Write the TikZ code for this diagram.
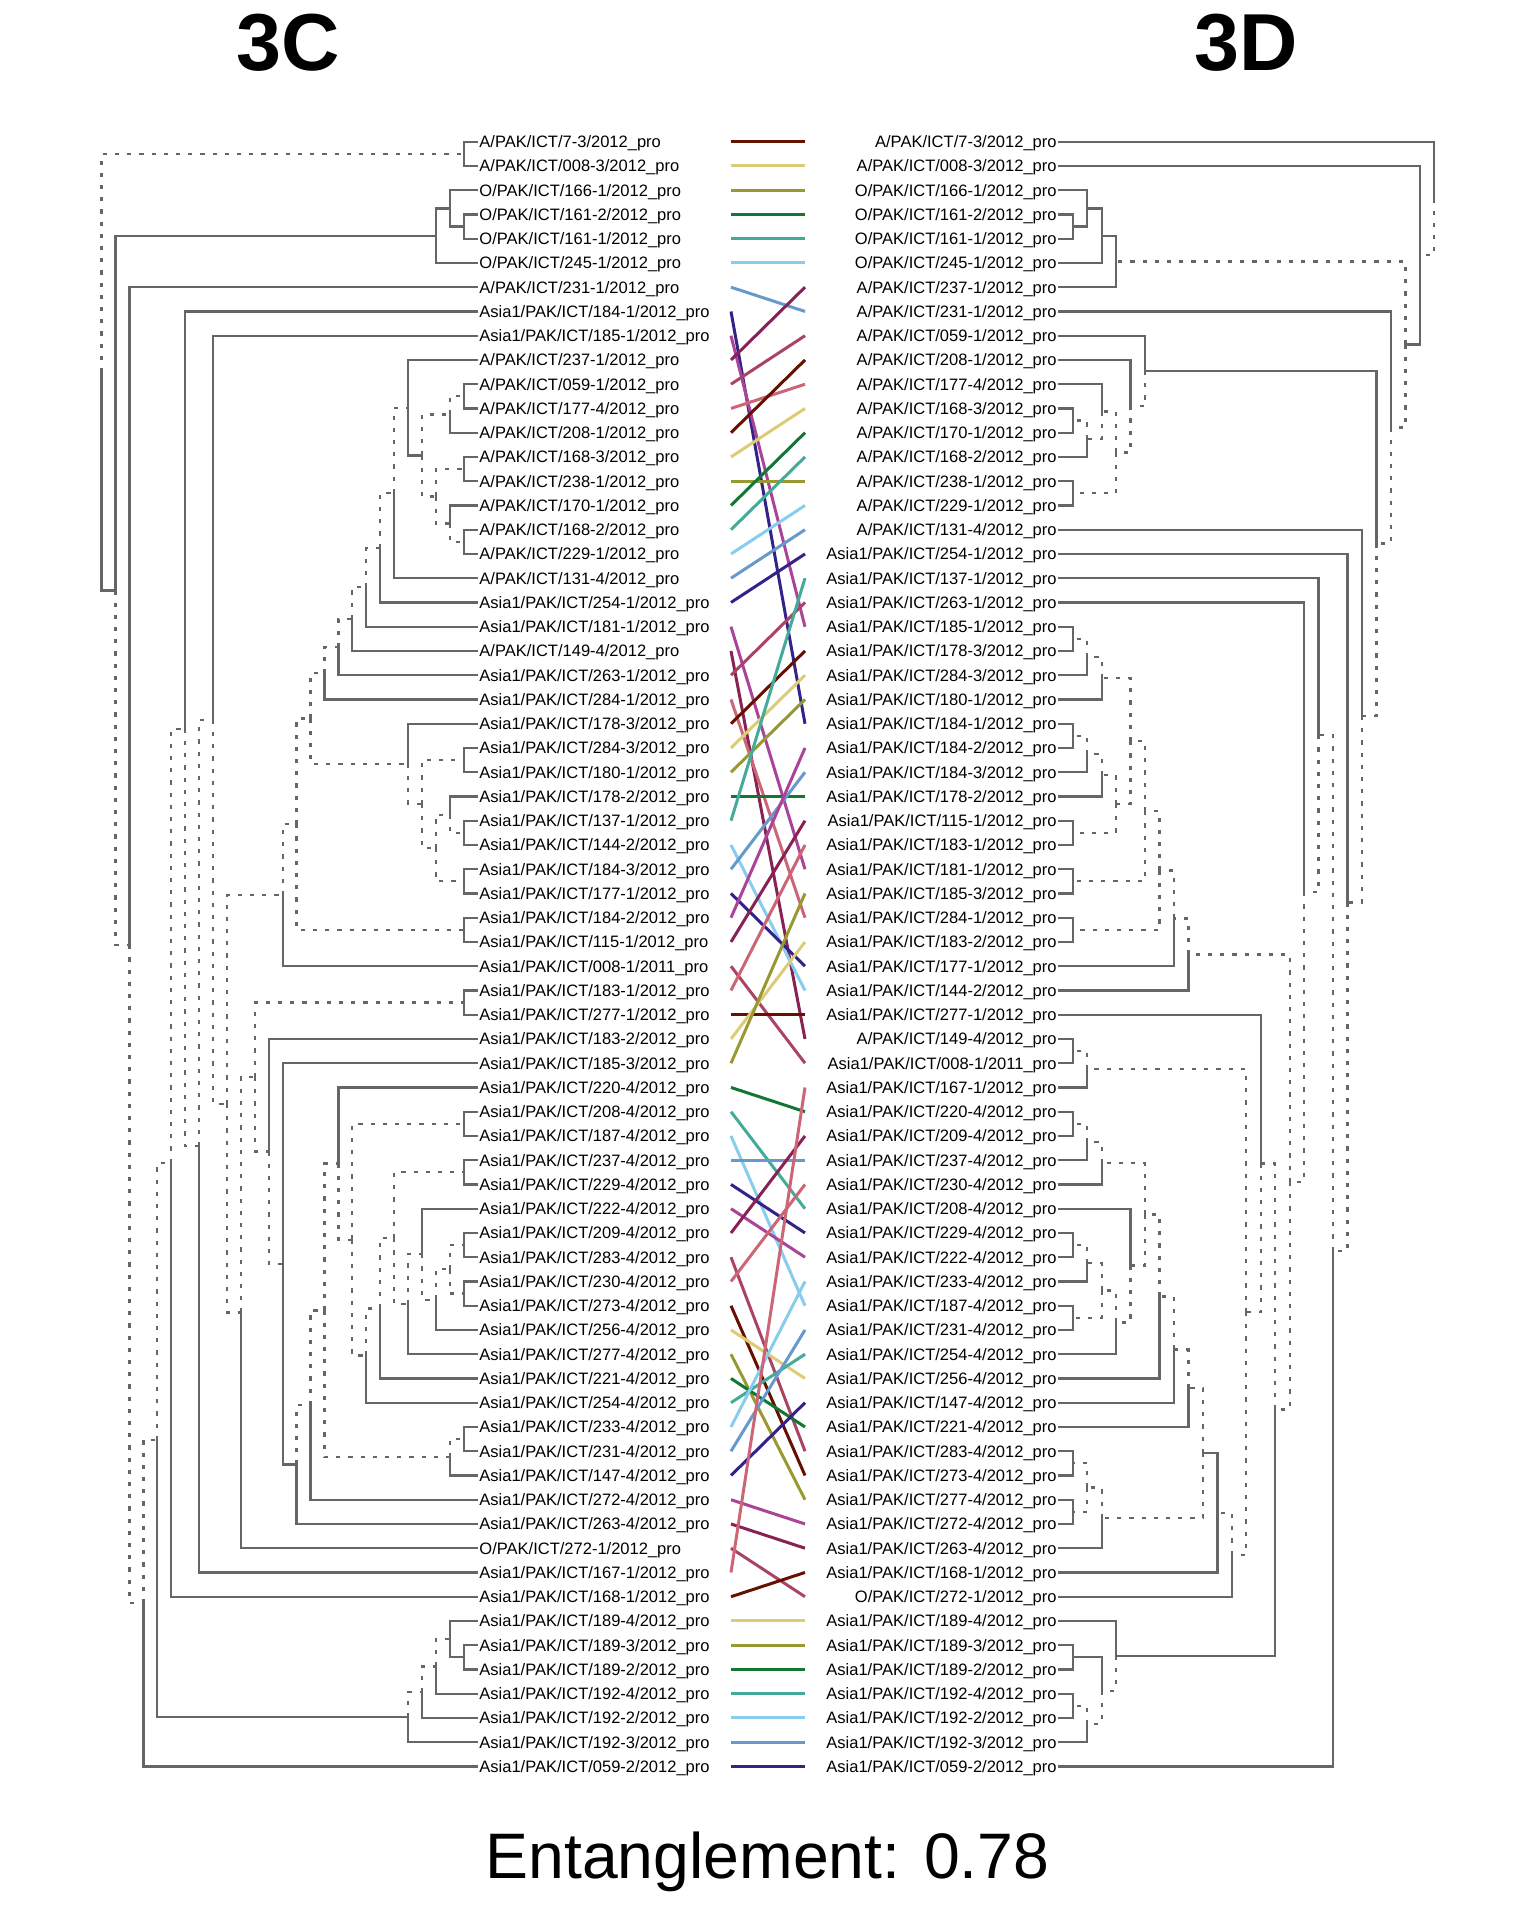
\documentclass[tikz,border=0pt]{standalone}
\usepackage{fontspec}
\setmainfont{Liberation Sans}
\usetikzlibrary{calc}
\definecolor{treec}{HTML}{666666}
\definecolor{tc0}{HTML}{661100}
\definecolor{tc1}{HTML}{DDCC77}
\definecolor{tc2}{HTML}{999933}
\definecolor{tc3}{HTML}{117733}
\definecolor{tc4}{HTML}{44AA99}
\definecolor{tc5}{HTML}{88CCEE}
\definecolor{tc6}{HTML}{6699CC}
\definecolor{tc7}{HTML}{332288}
\definecolor{tc8}{HTML}{AA4499}
\definecolor{tc9}{HTML}{882255}
\definecolor{tc10}{HTML}{AA4466}
\definecolor{tc11}{HTML}{CC6677}

% join two subtrees at a height level: name, level, child, style, child, style
\newcommand\lj[6]{%
  \path let \p1=($(#3)!.5!(#5)$) in ({(477.7-13.93*#2)*0.1mm},\y1) coordinate (#1);
  \draw[br,#4] (#1) |- (#3);
  \draw[br,#6] (#1) |- (#5);}
\newcommand\rj[6]{%
  \path let \p1=($(#3)!.5!(#5)$) in ({(1058.3+14.46*#2)*0.1mm},\y1) coordinate (#1);
  \draw[br,#4] (#1) |- (#3);
  \draw[br,#6] (#1) |- (#5);}

\begin{document}
\begin{tikzpicture}[x=0.1mm, y=-0.1mm,
    br/.style={draw=treec, line width=0.23mm},
    sol/.style={},
    dsh/.style={dash pattern=on 0.42mm off 0.8mm},
    leaf/.style={font=\fontsize{4.7}{5}\selectfont, inner sep=0pt},
    tangle/.style={line width=0.3mm}]
  \useasboundingbox (0,0) rectangle (1536,1920);

  \node[font=\bfseries\fontsize{23}{26}\selectfont, anchor=base] (tC) at (288,70) {3C};
  \node[font=\bfseries\fontsize{23}{26}\selectfont, anchor=base] (tD) at (1246,70) {3D};
  \node[font=\fontsize{18.3}{22}\selectfont, anchor=base] (ent) at (767.5,1878) {Entanglement: 0.78};

  \foreach \i in {1,...,68}{
    \coordinate (l\i) at (477.7,{141.7+24.25*(\i-1)});
    \coordinate (r\i) at (1058.3,{141.7+24.25*(\i-1)});
    \coordinate (a\i) at (731,{141.7+24.25*(\i-1)});
    \coordinate (b\i) at (805,{141.7+24.25*(\i-1)});
  }

  % labels
  \foreach \lab [count=\i] in {A/PAK/ICT/7-3/2012, A/PAK/ICT/008-3/2012, O/PAK/ICT/166-1/2012, O/PAK/ICT/161-2/2012, O/PAK/ICT/161-1/2012, O/PAK/ICT/245-1/2012, A/PAK/ICT/231-1/2012, Asia1/PAK/ICT/184-1/2012, Asia1/PAK/ICT/185-1/2012, A/PAK/ICT/237-1/2012, A/PAK/ICT/059-1/2012, A/PAK/ICT/177-4/2012, A/PAK/ICT/208-1/2012, A/PAK/ICT/168-3/2012, A/PAK/ICT/238-1/2012, A/PAK/ICT/170-1/2012, A/PAK/ICT/168-2/2012, A/PAK/ICT/229-1/2012, A/PAK/ICT/131-4/2012, Asia1/PAK/ICT/254-1/2012, Asia1/PAK/ICT/181-1/2012, A/PAK/ICT/149-4/2012, Asia1/PAK/ICT/263-1/2012, Asia1/PAK/ICT/284-1/2012, Asia1/PAK/ICT/178-3/2012, Asia1/PAK/ICT/284-3/2012, Asia1/PAK/ICT/180-1/2012, Asia1/PAK/ICT/178-2/2012, Asia1/PAK/ICT/137-1/2012, Asia1/PAK/ICT/144-2/2012, Asia1/PAK/ICT/184-3/2012, Asia1/PAK/ICT/177-1/2012, Asia1/PAK/ICT/184-2/2012, Asia1/PAK/ICT/115-1/2012, Asia1/PAK/ICT/008-1/2011, Asia1/PAK/ICT/183-1/2012, Asia1/PAK/ICT/277-1/2012, Asia1/PAK/ICT/183-2/2012, Asia1/PAK/ICT/185-3/2012, Asia1/PAK/ICT/220-4/2012, Asia1/PAK/ICT/208-4/2012, Asia1/PAK/ICT/187-4/2012, Asia1/PAK/ICT/237-4/2012, Asia1/PAK/ICT/229-4/2012, Asia1/PAK/ICT/222-4/2012, Asia1/PAK/ICT/209-4/2012, Asia1/PAK/ICT/283-4/2012, Asia1/PAK/ICT/230-4/2012, Asia1/PAK/ICT/273-4/2012, Asia1/PAK/ICT/256-4/2012, Asia1/PAK/ICT/277-4/2012, Asia1/PAK/ICT/221-4/2012, Asia1/PAK/ICT/254-4/2012, Asia1/PAK/ICT/233-4/2012, Asia1/PAK/ICT/231-4/2012, Asia1/PAK/ICT/147-4/2012, Asia1/PAK/ICT/272-4/2012, Asia1/PAK/ICT/263-4/2012, O/PAK/ICT/272-1/2012, Asia1/PAK/ICT/167-1/2012, Asia1/PAK/ICT/168-1/2012, Asia1/PAK/ICT/189-4/2012, Asia1/PAK/ICT/189-3/2012, Asia1/PAK/ICT/189-2/2012, Asia1/PAK/ICT/192-4/2012, Asia1/PAK/ICT/192-2/2012, Asia1/PAK/ICT/192-3/2012, Asia1/PAK/ICT/059-2/2012}
    \node[leaf, anchor=base west] (ll\i) at ($(l\i)+(1,6)$) {\lab\_pro};
  \foreach \lab [count=\i] in {A/PAK/ICT/7-3/2012, A/PAK/ICT/008-3/2012, O/PAK/ICT/166-1/2012, O/PAK/ICT/161-2/2012, O/PAK/ICT/161-1/2012, O/PAK/ICT/245-1/2012, A/PAK/ICT/237-1/2012, A/PAK/ICT/231-1/2012, A/PAK/ICT/059-1/2012, A/PAK/ICT/208-1/2012, A/PAK/ICT/177-4/2012, A/PAK/ICT/168-3/2012, A/PAK/ICT/170-1/2012, A/PAK/ICT/168-2/2012, A/PAK/ICT/238-1/2012, A/PAK/ICT/229-1/2012, A/PAK/ICT/131-4/2012, Asia1/PAK/ICT/254-1/2012, Asia1/PAK/ICT/137-1/2012, Asia1/PAK/ICT/263-1/2012, Asia1/PAK/ICT/185-1/2012, Asia1/PAK/ICT/178-3/2012, Asia1/PAK/ICT/284-3/2012, Asia1/PAK/ICT/180-1/2012, Asia1/PAK/ICT/184-1/2012, Asia1/PAK/ICT/184-2/2012, Asia1/PAK/ICT/184-3/2012, Asia1/PAK/ICT/178-2/2012, Asia1/PAK/ICT/115-1/2012, Asia1/PAK/ICT/183-1/2012, Asia1/PAK/ICT/181-1/2012, Asia1/PAK/ICT/185-3/2012, Asia1/PAK/ICT/284-1/2012, Asia1/PAK/ICT/183-2/2012, Asia1/PAK/ICT/177-1/2012, Asia1/PAK/ICT/144-2/2012, Asia1/PAK/ICT/277-1/2012, A/PAK/ICT/149-4/2012, Asia1/PAK/ICT/008-1/2011, Asia1/PAK/ICT/167-1/2012, Asia1/PAK/ICT/220-4/2012, Asia1/PAK/ICT/209-4/2012, Asia1/PAK/ICT/237-4/2012, Asia1/PAK/ICT/230-4/2012, Asia1/PAK/ICT/208-4/2012, Asia1/PAK/ICT/229-4/2012, Asia1/PAK/ICT/222-4/2012, Asia1/PAK/ICT/233-4/2012, Asia1/PAK/ICT/187-4/2012, Asia1/PAK/ICT/231-4/2012, Asia1/PAK/ICT/254-4/2012, Asia1/PAK/ICT/256-4/2012, Asia1/PAK/ICT/147-4/2012, Asia1/PAK/ICT/221-4/2012, Asia1/PAK/ICT/283-4/2012, Asia1/PAK/ICT/273-4/2012, Asia1/PAK/ICT/277-4/2012, Asia1/PAK/ICT/272-4/2012, Asia1/PAK/ICT/263-4/2012, Asia1/PAK/ICT/168-1/2012, O/PAK/ICT/272-1/2012, Asia1/PAK/ICT/189-4/2012, Asia1/PAK/ICT/189-3/2012, Asia1/PAK/ICT/189-2/2012, Asia1/PAK/ICT/192-4/2012, Asia1/PAK/ICT/192-2/2012, Asia1/PAK/ICT/192-3/2012, Asia1/PAK/ICT/059-2/2012}
    \node[leaf, anchor=base east] (rl\i) at ($(r\i)+(-1,6)$) {\lab\_pro};

  % left tree (3C)
  \lj{LA}{1}{l1}{sol}{l2}{sol}
  \lj{LO1}{1}{l4}{sol}{l5}{sol}
  \lj{LO2}{2}{l3}{sol}{LO1}{sol}
  \lj{LO3}{3}{LO2}{sol}{l6}{sol}
  \lj{LG1}{1}{l63}{sol}{l64}{sol}
  \lj{LG2}{2}{l62}{sol}{LG1}{sol}
  \lj{LG3}{3}{LG2}{dsh}{l65}{sol}
  \lj{LG4}{4}{LG3}{dsh}{l66}{sol}
  \lj{LG5}{5}{LG4}{dsh}{l67}{sol}
  \lj{LB1}{1}{l11}{sol}{l12}{sol}
  \lj{LB2}{2}{LB1}{dsh}{l13}{sol}
  \lj{LC1}{1}{l14}{sol}{l15}{sol}
  \lj{LC2}{1}{l17}{sol}{l18}{sol}
  \lj{LC3}{2}{l16}{sol}{LC2}{dsh}
  \lj{LC4}{3}{LC1}{dsh}{LC3}{dsh}
  \lj{LB4}{4}{LB2}{dsh}{LC4}{dsh}
  \lj{LB5}{5}{l10}{sol}{LB4}{sol}
  \lj{LB6}{6}{LB5}{dsh}{l19}{sol}
  \lj{LB7}{7}{LB6}{dsh}{l20}{sol}
  \lj{LB8}{8}{LB7}{dsh}{l21}{sol}
  \lj{LB9}{9}{LB8}{dsh}{l22}{sol}
  \lj{LB10}{10}{LB9}{dsh}{l23}{sol}
  \lj{LB11}{11}{LB10}{dsh}{l24}{sol}
  \lj{LD1}{1}{l26}{sol}{l27}{sol}
  \lj{LD2}{1}{l29}{sol}{l30}{sol}
  \lj{LD3}{2}{l28}{sol}{LD2}{dsh}
  \lj{LD4}{1}{l31}{sol}{l32}{sol}
  \lj{LD5}{3}{LD3}{dsh}{LD4}{dsh}
  \lj{LD6}{4}{LD1}{dsh}{LD5}{dsh}
  \lj{LD7}{5}{l25}{sol}{LD6}{dsh}
  \lj{LB12}{12}{LB11}{dsh}{LD7}{dsh}
  \lj{LP}{1}{l33}{sol}{l34}{sol}
  \lj{LB13}{13}{LB12}{dsh}{LP}{dsh}
  \lj{LB14}{14}{LB13}{dsh}{l35}{sol}
  \lj{LE1}{1}{l36}{sol}{l37}{sol}
  \lj{LF1}{1}{l41}{sol}{l42}{sol}
  \lj{LF2}{1}{l43}{sol}{l44}{sol}
  \lj{LF3}{1}{l46}{sol}{l47}{sol}
  \lj{LF4}{1}{l48}{sol}{l49}{sol}
  \lj{LF5}{2}{LF3}{dsh}{LF4}{dsh}
  \lj{LF6}{3}{LF5}{dsh}{l50}{sol}
  \lj{LF7}{4}{l45}{sol}{LF6}{dsh}
  \lj{LF8}{5}{LF7}{dsh}{l51}{sol}
  \lj{LF9}{6}{LF2}{dsh}{LF8}{dsh}
  \lj{LF10}{7}{LF9}{dsh}{l52}{sol}
  \lj{LF11}{8}{LF10}{dsh}{l53}{sol}
  \lj{LF12}{9}{LF1}{dsh}{LF11}{dsh}
  \lj{LF13}{10}{l40}{sol}{LF12}{dsh}
  \lj{LH1}{1}{l54}{sol}{l55}{sol}
  \lj{LH2}{2}{LH1}{dsh}{l56}{sol}
  \lj{LF14}{11}{LF13}{dsh}{LH2}{dsh}
  \lj{LF15}{12}{LF14}{dsh}{l57}{sol}
  \lj{LF16}{13}{LF15}{dsh}{l58}{sol}
  \lj{LF17}{14}{l39}{sol}{LF16}{sol}
  \lj{LF18}{15}{l38}{sol}{LF17}{dsh}
  \lj{LF19}{16}{LE1}{dsh}{LF18}{dsh}
  \lj{LF20}{17}{LF19}{dsh}{l59}{sol}
  \lj{LK}{18}{LB14}{dsh}{LF20}{dsh}
  \lj{LJ}{19}{l9}{sol}{LK}{dsh}
  \lj{LI}{20}{LJ}{dsh}{l60}{sol}
  \lj{LH}{21}{l8}{sol}{LI}{dsh}
  \lj{LFf}{22}{LH}{dsh}{l61}{sol}
  \lj{LEe}{23}{LFf}{dsh}{LG5}{sol}
  \lj{LDd}{24}{LEe}{dsh}{l68}{sol}
  \lj{LCc}{25}{l7}{sol}{LDd}{dsh}
  \lj{LBb}{26}{LO3}{sol}{LCc}{dsh}
  \lj{LR}{27}{LA}{dsh}{LBb}{sol}

  % right tree (3D)
  \rj{RO1}{1}{r4}{sol}{r5}{sol}
  \rj{RO2}{2}{r3}{sol}{RO1}{sol}
  \rj{RO3}{3}{RO2}{sol}{r6}{sol}
  \rj{RO4}{4}{RO3}{sol}{r7}{sol}
  \rj{RA1}{1}{r12}{sol}{r13}{sol}
  \rj{RA2}{2}{RA1}{dsh}{r14}{sol}
  \rj{RA3}{3}{r11}{sol}{RA2}{dsh}
  \rj{RA4}{1}{r15}{sol}{r16}{sol}
  \rj{RA5}{4}{RA3}{dsh}{RA4}{dsh}
  \rj{RA6}{5}{r10}{sol}{RA5}{dsh}
  \rj{RA7}{6}{r9}{sol}{RA6}{dsh}
  \rj{RB1}{1}{r21}{sol}{r22}{sol}
  \rj{RB2}{2}{RB1}{dsh}{r23}{sol}
  \rj{RB3}{3}{RB2}{dsh}{r24}{sol}
  \rj{RB4}{1}{r25}{sol}{r26}{sol}
  \rj{RB5}{2}{RB4}{dsh}{r27}{sol}
  \rj{RB6}{3}{RB5}{dsh}{r28}{sol}
  \rj{RB7}{1}{r29}{sol}{r30}{sol}
  \rj{RB8}{4}{RB6}{dsh}{RB7}{dsh}
  \rj{RB9}{5}{RB3}{dsh}{RB8}{dsh}
  \rj{RB10}{1}{r31}{sol}{r32}{sol}
  \rj{RB11}{6}{RB9}{dsh}{RB10}{dsh}
  \rj{RB12}{1}{r33}{sol}{r34}{sol}
  \rj{RB13}{7}{RB11}{dsh}{RB12}{dsh}
  \rj{RB14}{8}{RB13}{dsh}{r35}{sol}
  \rj{RB15}{9}{RB14}{dsh}{r36}{sol}
  \rj{RC1}{1}{r38}{sol}{r39}{sol}
  \rj{RC2}{2}{RC1}{dsh}{r40}{sol}
  \rj{RD1}{1}{r41}{sol}{r42}{sol}
  \rj{RD2}{2}{RD1}{dsh}{r43}{sol}
  \rj{RD3}{3}{RD2}{dsh}{r44}{sol}
  \rj{RD4}{1}{r46}{sol}{r47}{sol}
  \rj{RD5}{2}{RD4}{dsh}{r48}{sol}
  \rj{RD6}{1}{r49}{sol}{r50}{sol}
  \rj{RD7}{3}{RD5}{dsh}{RD6}{dsh}
  \rj{RD8}{4}{RD7}{dsh}{r51}{sol}
  \rj{RD9}{5}{r45}{sol}{RD8}{dsh}
  \rj{RD10}{6}{RD3}{dsh}{RD9}{dsh}
  \rj{RD11}{7}{RD10}{dsh}{r52}{sol}
  \rj{RD12}{8}{RD11}{dsh}{r53}{sol}
  \rj{RD13}{9}{RD12}{dsh}{r54}{sol}
  \rj{RE1}{1}{r55}{sol}{r56}{sol}
  \rj{RE2}{1}{r57}{sol}{r58}{sol}
  \rj{RE3}{2}{RE1}{dsh}{RE2}{dsh}
  \rj{RE4}{3}{RE3}{dsh}{r59}{sol}
  \rj{RD14}{10}{RD13}{dsh}{RE4}{dsh}
  \rj{RD15}{11}{RD14}{sol}{r60}{sol}
  \rj{RD16}{12}{RD15}{dsh}{r61}{sol}
  \rj{RC3}{13}{RC2}{dsh}{RD16}{dsh}
  \rj{RC4}{14}{r37}{sol}{RC3}{dsh}
  \rj{RF1}{1}{r63}{sol}{r64}{sol}
  \rj{RF2}{1}{r65}{sol}{r66}{sol}
  \rj{RF3}{2}{RF2}{dsh}{r67}{sol}
  \rj{RF4}{3}{RF1}{sol}{RF3}{dsh}
  \rj{RF5}{4}{r62}{sol}{RF4}{dsh}
  \rj{RC5}{15}{RC4}{dsh}{RF5}{sol}
  \rj{RC6}{16}{RB15}{dsh}{RC5}{dsh}
  \rj{RG17}{17}{r20}{sol}{RC6}{dsh}
  \rj{RG18}{18}{r19}{sol}{RG17}{dsh}
  \rj{RG19}{19}{RG18}{dsh}{r68}{sol}
  \rj{RG20}{20}{r18}{sol}{RG19}{dsh}
  \rj{RG21}{21}{r17}{sol}{RG20}{dsh}
  \rj{RG22}{22}{RA7}{sol}{RG21}{dsh}
  \rj{RG23}{23}{r8}{sol}{RG22}{dsh}
  \rj{RG24}{24}{RO4}{dsh}{RG23}{dsh}
  \rj{RG25}{25}{r2}{sol}{RG24}{sol}
  \rj{RR}{26}{r1}{sol}{RG25}{dsh}

  % connecting lines
  \foreach \i/\j in {1/1, 2/2, 3/3, 4/4, 5/5, 6/6, 7/8, 8/25, 9/21, 10/7, 11/9, 12/11, 13/10, 14/12, 15/15, 16/13, 17/14, 18/16, 19/17, 20/18, 21/31, 22/38, 23/20, 24/33, 25/22, 26/23, 27/24, 28/28, 29/19, 30/36, 31/27, 32/35, 33/26, 34/29, 35/39, 36/30, 37/37, 38/34, 39/32, 40/41, 41/45, 42/49, 43/43, 44/46, 45/47, 46/42, 47/55, 48/44, 49/56, 50/52, 51/57, 52/54, 53/51, 54/48, 55/50, 56/53, 57/58, 58/59, 59/61, 60/40, 61/60, 62/62, 63/63, 64/64, 65/65, 66/66, 67/67, 68/68}{
    \pgfmathtruncatemacro\c{mod(\i-1,12)}
    \draw[tangle, color=tc\c] (a\i) -- (b\j);
  }
\end{tikzpicture}
\end{document}
